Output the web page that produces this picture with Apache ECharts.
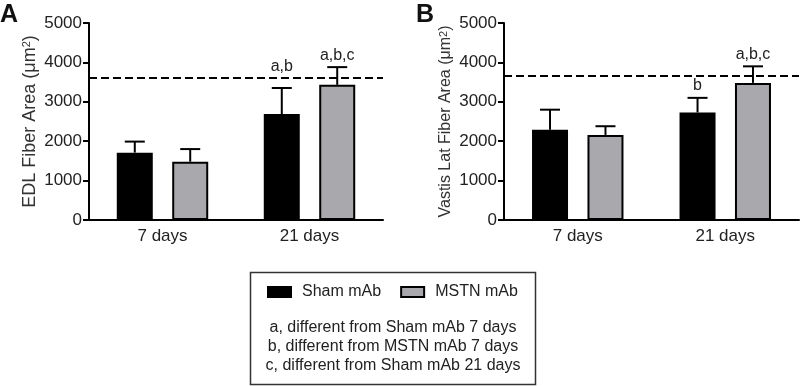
<!DOCTYPE html>
<html>
<head>
<meta charset="utf-8">
<script src="https://cdn.jsdelivr.net/npm/echarts@6/dist/echarts.min.js"></script>
<style>
  html, body { margin: 0; padding: 0; background: #fff; }
  #chart { width: 800px; height: 386px; }
</style>
</head>
<body>
<div id="chart"></div>
<script>
// categories and ticks
var categories = ['7 days', '21 days'];
var yTicks = [0, 1000, 2000, 3000, 4000, 5000];
var seriesNames = ['Sham mAb', 'MSTN mAb'];

// panel A: EDL
var edlSham = [1710, 2690];
var edlShamErr = [280, 660];
var edlMstn = [1480, 3430];
var edlMstnErr = [320, 450];
var edlShamSig = ['', 'a,b'];
var edlMstnSig = ['', 'a,b,c'];
var edlRef = 3600;

// panel B: Vastis Lat
var vlSham = [2290, 2730];
var vlShamErr = [510, 370];
var vlMstn = [2160, 3480];
var vlMstnErr = [220, 420];
var vlShamSig = ['', 'b'];
var vlMstnSig = ['', 'a,b,c'];
var vlRef = 3650;

var notes = [
  'a, different from Sham mAb 7 days',
  'b, different from MSTN mAb 7 days',
  'c, different from Sham mAb 21 days'
];

var FONT = '"Liberation Sans", Arial, Helvetica, sans-serif';
var barWidth = 36;
var barGap = 0.54;
// distance from category centre to each bar's centre
var offset = barWidth * (1 + barGap) / 2;

var myChart = echarts.init(document.getElementById('chart'));

function xAxis(idx) {
  return {
    type: 'category',
    gridIndex: idx,
    data: categories,
    axisLine: { lineStyle: { color: '#000', width: 2 } },
    axisTick: { alignWithLabel: true, length: 6, lineStyle: { color: '#000', width: 2 } },
    axisLabel: { fontSize: 17, color: '#222', margin: 8, fontFamily: FONT }
  };
}

function yAxis(idx, name, size) {
  return {
    type: 'value',
    gridIndex: idx,
    min: yTicks[0],
    max: yTicks[yTicks.length - 1],
    interval: yTicks[1] - yTicks[0],
    name: name + ' (μm{sup|2})',
    nameLocation: 'middle',
    nameGap: 50,
    nameTextStyle: {
      fontSize: size, color: '#333', fontFamily: FONT,
      rich: {
        sup: { fontSize: 11, color: '#333', fontFamily: FONT, verticalAlign: 'top' }
      }
    },
    axisLine: { show: true, lineStyle: { color: '#000', width: 2 } },
    axisTick: { show: true, length: 6, lineStyle: { color: '#000', width: 2 } },
    axisLabel: {
      fontSize: 17, color: '#222', margin: 7, fontFamily: FONT,
      formatter: function (v) { return String(v); }
    },
    splitLine: { show: false }
  };
}

function barSeries(name, idx, values, fill, ref) {
  var s = {
    type: 'bar',
    name: name,
    xAxisIndex: idx,
    yAxisIndex: idx,
    data: values,
    barWidth: barWidth,
    barGap: (barGap * 100) + '%',
    itemStyle: { color: fill, borderColor: '#000', borderWidth: 2 },
    emphasis: { disabled: true },
    z: 2
  };
  if (ref != null) {
    // dashed reference line
    s.markLine = {
      silent: true,
      symbol: ['none', 'none'],
      label: { show: false },
      lineStyle: { color: '#000', width: 2, type: [8, 4] },
      data: [{ yAxis: ref }]
    };
  }
  return s;
}

// error bar (upper only) + significance letters
function errSeries(idx, values, errs, sigs, side, ref) {
  return {
    type: 'custom',
    name: 'err',
    xAxisIndex: idx,
    yAxisIndex: idx,
    silent: true,
    z: 3,
    data: values.map(function (v, i) { return [i, v, v + errs[i]]; }),
    renderItem: function (params, api) {
      var base = api.coord([api.value(0), api.value(1)]);
      var top = api.coord([api.value(0), api.value(2)]);
      var refY = api.coord([0, ref])[1];
      var x = base[0] + side * offset;
      // letters sit above the cap, but not on the dashed line
      var ty = top[1] - 12;
      if (Math.abs(ty - refY) < 8) ty = refY - 12;
      var st = { stroke: '#000', lineWidth: 2 };
      return {
        type: 'group',
        children: [
          { type: 'line', shape: { x1: x, y1: base[1], x2: x, y2: top[1] }, style: st },
          { type: 'line', shape: { x1: x - 10, y1: top[1], x2: x + 10, y2: top[1] }, style: st },
          {
            type: 'text',
            style: {
              text: sigs[params.dataIndex], x: x, y: ty,
              textAlign: 'center', textVerticalAlign: 'middle',
              fontSize: 16, fill: '#222', fontFamily: FONT
            }
          }
        ]
      };
    }
  };
}

var option = {
  animation: false,
  textStyle: { fontFamily: FONT },
  grid: [
    { left: 89, top: 23, width: 294, height: 197 },
    { left: 504, top: 23, width: 295, height: 197 }
  ],
  xAxis: [xAxis(0), xAxis(1)],
  yAxis: [
    yAxis(0, 'EDL Fiber Area', 18),
    yAxis(1, 'Vastis Lat Fiber Area', 16)
  ],
  legend: {
    data: seriesNames,
    left: 267,
    top: 284,
    padding: 0,
    itemWidth: 23,
    itemHeight: 10,
    itemGap: 19,
    icon: 'rect',
    textStyle: { fontSize: 16, color: '#222', fontFamily: FONT, padding: [0, 0, 0, 6] }
  },
  graphic: [
    {
      type: 'rect',
      shape: { x: 250.5, y: 272.5, width: 285, height: 112 },
      style: { fill: 'none', stroke: '#333', lineWidth: 1.5 }
    },
    {
      type: 'text', left: 0, top: 3,
      style: { text: 'A', fontSize: 25, fontWeight: 'bold', fill: '#111', fontFamily: FONT }
    },
    {
      type: 'text', left: 416, top: 3,
      style: { text: 'B', fontSize: 25, fontWeight: 'bold', fill: '#111', fontFamily: FONT }
    },
    {
      type: 'text', x: 393, y: 347,
      style: {
        text: notes.join('\n'), fontSize: 16, lineHeight: 19, fill: '#222',
        textAlign: 'center', textVerticalAlign: 'middle', fontFamily: FONT
      }
    }
  ],
  series: [
    barSeries(seriesNames[0], 0, edlSham, '#000', edlRef),
    barSeries(seriesNames[1], 0, edlMstn, '#a9a9ad'),
    errSeries(0, edlSham, edlShamErr, edlShamSig, -1, edlRef),
    errSeries(0, edlMstn, edlMstnErr, edlMstnSig, 1, edlRef),
    barSeries(seriesNames[0], 1, vlSham, '#000', vlRef),
    barSeries(seriesNames[1], 1, vlMstn, '#a9a9ad'),
    errSeries(1, vlSham, vlShamErr, vlShamSig, -1, vlRef),
    errSeries(1, vlMstn, vlMstnErr, vlMstnSig, 1, vlRef)
  ]
};
myChart.setOption(option);
</script>
</body>
</html>
